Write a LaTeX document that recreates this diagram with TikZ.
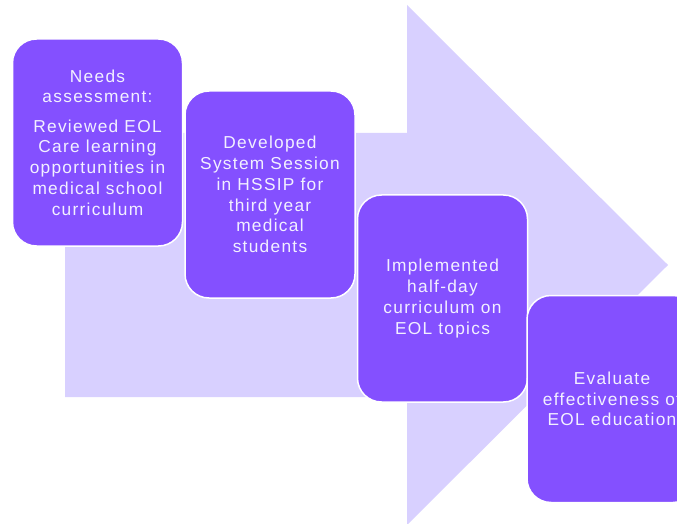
\documentclass[tikz,border=0pt]{standalone}
\usepackage{fontspec}
\setmainfont{Liberation Sans}[LetterSpace=7.5]
\usepackage{tikz}

\definecolor{arrowlilac}{RGB}{216,208,255}
\definecolor{stagepurple}{RGB}{132,80,255}
\definecolor{stagetext}{RGB}{242,240,255}

\tikzset{
  stagebox/.style={draw=white, line width=1.5pt, fill=stagepurple,
    rounded corners=24pt, minimum width=170pt, minimum height=207pt,
    text=stagetext, align=center, inner sep=0pt,
    font=\fontsize{17.3}{20.8}\selectfont}
}

\begin{document}
\begin{tikzpicture}[x=1pt, y=1pt]

\useasboundingbox (0,0) rectangle (677,523);
\clip (0,0) rectangle (677,523);

% Big background arrow
\fill[arrowlilac] (65,390) -- (407,390) -- (407,518) -- (668,258)
  -- (407,-2) -- (407,126) -- (65,126) -- cycle;

% Stages
\node[stagebox] (needs) at (97.5,380.5)
  {Needs\\assessment:\\[8.5pt]Reviewed EOL\\Care learning\\opportunities in\\medical school\\curriculum};

\node[stagebox] (develop) at (270,328.5)
  {Developed\\System Session\\in HSSIP for\\third year\\medical\\students};

\node[stagebox] (implement) at (442.5,224.5)
  {Implemented\\half-day\\curriculum on\\EOL topics};

\node[stagebox] (evaluate) at (612,124)
  {Evaluate\\effectiveness of\\EOL education};

\end{tikzpicture}
\end{document}
